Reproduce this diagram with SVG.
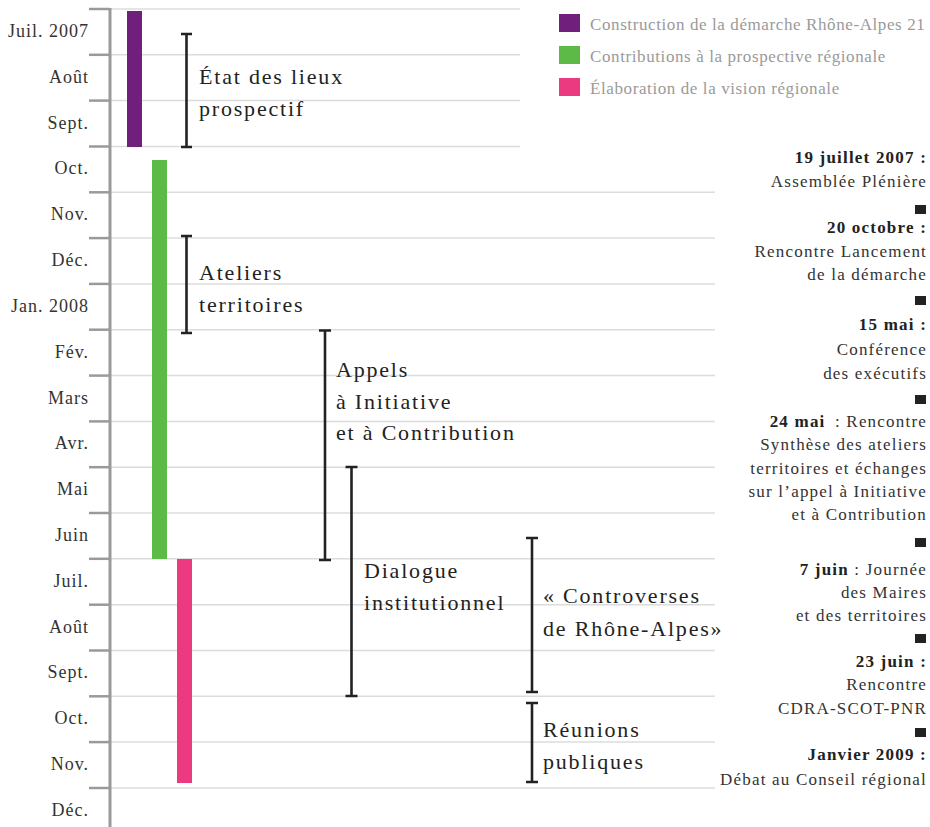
<svg xmlns="http://www.w3.org/2000/svg" width="930" height="827" viewBox="0 0 930 827">
<style>
text{font-family:"Liberation Serif","Times New Roman",serif}
.grid{stroke:#dcdcdc;stroke-width:1.5}
.tick{stroke:#9a9a9c;stroke-width:2.5}
.axis{stroke:#9a9a9c;stroke-width:3}
.m{font-size:18px;fill:#333;text-anchor:end;letter-spacing:1px}
.br{stroke:#222;stroke-width:2.6;fill:none}
.bl{font-size:22px;fill:#222;letter-spacing:1.8px}
.lg{font-size:17px;fill:#9a9a9a;letter-spacing:0.6px}
.ev{font-size:17px;fill:#333;text-anchor:end;letter-spacing:1.2px}
.b{font-weight:bold;fill:#222}
.sq{fill:#222}
</style>
<g id="grid">
<line class="grid" x1="110" y1="9" x2="520" y2="9"/>
<line class="grid" x1="110" y1="54.8" x2="520" y2="54.8"/>
<line class="grid" x1="110" y1="100.6" x2="520" y2="100.6"/>
<line class="grid" x1="110" y1="146.5" x2="520" y2="146.5"/>
<line class="grid" x1="110" y1="192.3" x2="715" y2="192.3"/>
<line class="grid" x1="110" y1="238.1" x2="715" y2="238.1"/>
<line class="grid" x1="110" y1="283.9" x2="715" y2="283.9"/>
<line class="grid" x1="110" y1="329.7" x2="715" y2="329.7"/>
<line class="grid" x1="110" y1="375.6" x2="715" y2="375.6"/>
<line class="grid" x1="110" y1="421.4" x2="715" y2="421.4"/>
<line class="grid" x1="110" y1="467.2" x2="715" y2="467.2"/>
<line class="grid" x1="110" y1="513" x2="715" y2="513"/>
<line class="grid" x1="110" y1="558.8" x2="715" y2="558.8"/>
<line class="grid" x1="110" y1="604.7" x2="715" y2="604.7"/>
<line class="grid" x1="110" y1="650.5" x2="715" y2="650.5"/>
<line class="grid" x1="110" y1="696.3" x2="715" y2="696.3"/>
<line class="grid" x1="110" y1="742.1" x2="715" y2="742.1"/>
<line class="grid" x1="110" y1="788" x2="715" y2="788"/>
</g>
<g id="axis">
<line class="axis" x1="110" y1="8" x2="110" y2="827"/>
<line class="tick" x1="89" y1="9" x2="110" y2="9"/>
<line class="tick" x1="89" y1="54.8" x2="110" y2="54.8"/>
<line class="tick" x1="89" y1="100.6" x2="110" y2="100.6"/>
<line class="tick" x1="89" y1="146.5" x2="110" y2="146.5"/>
<line class="tick" x1="89" y1="192.3" x2="110" y2="192.3"/>
<line class="tick" x1="89" y1="238.1" x2="110" y2="238.1"/>
<line class="tick" x1="89" y1="283.9" x2="110" y2="283.9"/>
<line class="tick" x1="89" y1="329.7" x2="110" y2="329.7"/>
<line class="tick" x1="89" y1="375.6" x2="110" y2="375.6"/>
<line class="tick" x1="89" y1="421.4" x2="110" y2="421.4"/>
<line class="tick" x1="89" y1="467.2" x2="110" y2="467.2"/>
<line class="tick" x1="89" y1="513" x2="110" y2="513"/>
<line class="tick" x1="89" y1="558.8" x2="110" y2="558.8"/>
<line class="tick" x1="89" y1="604.7" x2="110" y2="604.7"/>
<line class="tick" x1="89" y1="650.5" x2="110" y2="650.5"/>
<line class="tick" x1="89" y1="696.3" x2="110" y2="696.3"/>
<line class="tick" x1="89" y1="742.1" x2="110" y2="742.1"/>
<line class="tick" x1="89" y1="788" x2="110" y2="788"/>
</g>
<g id="months">
<text class="m" x="89" y="37">Juil. 2007</text>
<text class="m" x="89" y="82.7">Août</text>
<text class="m" x="89" y="128.5">Sept.</text>
<text class="m" x="89" y="174.4">Oct.</text>
<text class="m" x="89" y="220.2">Nov.</text>
<text class="m" x="89" y="266">Déc.</text>
<text class="m" x="89" y="311.8">Jan. 2008</text>
<text class="m" x="89" y="357.6">Fév.</text>
<text class="m" x="89" y="403.5">Mars</text>
<text class="m" x="89" y="449.3">Avr.</text>
<text class="m" x="89" y="495.1">Mai</text>
<text class="m" x="89" y="540.9">Juin</text>
<text class="m" x="89" y="586.7">Juil.</text>
<text class="m" x="89" y="632.6">Août</text>
<text class="m" x="89" y="678.4">Sept.</text>
<text class="m" x="89" y="724.2">Oct.</text>
<text class="m" x="89" y="770">Nov.</text>
<text class="m" x="89" y="815.9">Déc.</text>
</g>
<g id="bars">
<rect id="bar-construction" x="127" y="11" width="15" height="136" fill="#701f7d"/>
<rect id="bar-contributions" x="152" y="160" width="15" height="399" fill="#5dba47"/>
<rect id="bar-elaboration" x="177" y="559" width="15" height="224" fill="#ec3a80"/>
</g>
<g id="legend">
<g id="legend-1"><rect x="559" y="14" width="21" height="18" fill="#701f7d"/><text class="lg" x="590" y="30">Construction de la démarche Rhône-Alpes 21</text></g>
<g id="legend-2"><rect x="559" y="46" width="21" height="18" fill="#5dba47"/><text class="lg" x="590" y="62">Contributions à la prospective régionale</text></g>
<g id="legend-3"><rect x="559" y="78" width="21" height="18" fill="#ec3a80"/><text class="lg" x="590" y="94">Élaboration de la vision régionale</text></g>
</g>
<g id="phase-etat">
<path class="br" d="M186.5 34V147M181 34H192M181 147H192"/>
<text class="bl" x="199" y="84">État des lieux</text>
<text class="bl" x="199" y="116">prospectif</text>
</g>
<g id="phase-ateliers">
<path class="br" d="M186.5 236V333M181 236H192M181 333H192"/>
<text class="bl" x="199" y="280">Ateliers</text>
<text class="bl" x="199" y="312">territoires</text>
</g>
<g id="phase-appels">
<path class="br" d="M325 330.5V560M319 330.5H331M319 560H331"/>
<text class="bl" x="336" y="377">Appels</text>
<text class="bl" x="336" y="409">à Initiative</text>
<text class="bl" x="336" y="440">et à Contribution</text>
</g>
<g id="phase-dialogue">
<path class="br" d="M351.5 467V696M345.5 467H357.5M345.5 696H357.5"/>
<text class="bl" x="364" y="578">Dialogue</text>
<text class="bl" x="364" y="610">institutionnel</text>
</g>
<g id="phase-controverses">
<path class="br" d="M532 538V692M526 538H538M526 692H538"/>
<text class="bl" x="543" y="603">« Controverses</text>
<text class="bl" x="543" y="636">de Rhône-Alpes»</text>
</g>
<g id="phase-reunions">
<path class="br" d="M532 703V782M526 703H538M526 782H538"/>
<text class="bl" x="543" y="737">Réunions</text>
<text class="bl" x="543" y="769">publiques</text>
</g>
<g id="events">
<g id="ev-1">
<text class="ev" x="927" y="163"><tspan class="b">19 juillet 2007 :</tspan></text>
<text class="ev" x="927" y="187">Assemblée Plénière</text>
<rect class="sq" x="915" y="205" width="11" height="9"/>
</g>
<g id="ev-2">
<text class="ev" x="927" y="233"><tspan class="b">20 octobre :</tspan></text>
<text class="ev" x="927" y="257">Rencontre Lancement</text>
<text class="ev" x="927" y="280">de la démarche</text>
<rect class="sq" x="915" y="296" width="11" height="9"/>
</g>
<g id="ev-3">
<text class="ev" x="927" y="330"><tspan class="b">15 mai :</tspan></text>
<text class="ev" x="927" y="355">Conférence</text>
<text class="ev" x="927" y="379">des exécutifs</text>
<rect class="sq" x="915" y="395" width="11" height="9"/>
</g>
<g id="ev-4">
<text class="ev" x="927" y="427"><tspan class="b">24 mai</tspan><tspan dx="4"> : Rencontre</tspan></text>
<text class="ev" x="927" y="450">Synthèse des ateliers</text>
<text class="ev" x="927" y="474">territoires et échanges</text>
<text class="ev" x="927" y="497">sur l’appel à Initiative</text>
<text class="ev" x="927" y="520">et à Contribution</text>
<rect class="sq" x="915" y="538" width="11" height="9"/>
</g>
<g id="ev-5">
<text class="ev" x="927" y="575"><tspan class="b">7 juin</tspan> : Journée</text>
<text class="ev" x="927" y="598">des Maires</text>
<text class="ev" x="927" y="621">et des territoires</text>
<rect class="sq" x="915" y="634" width="11" height="9"/>
</g>
<g id="ev-6">
<text class="ev" x="927" y="667"><tspan class="b">23 juin :</tspan></text>
<text class="ev" x="927" y="690">Rencontre</text>
<text class="ev" x="927" y="714">CDRA-SCOT-PNR</text>
<rect class="sq" x="915" y="728" width="11" height="9"/>
</g>
<g id="ev-7">
<text class="ev" x="927" y="760"><tspan class="b">Janvier 2009 :</tspan></text>
<text class="ev" x="927" y="785">Débat au Conseil régional</text>
</g>
</g>
</svg>
